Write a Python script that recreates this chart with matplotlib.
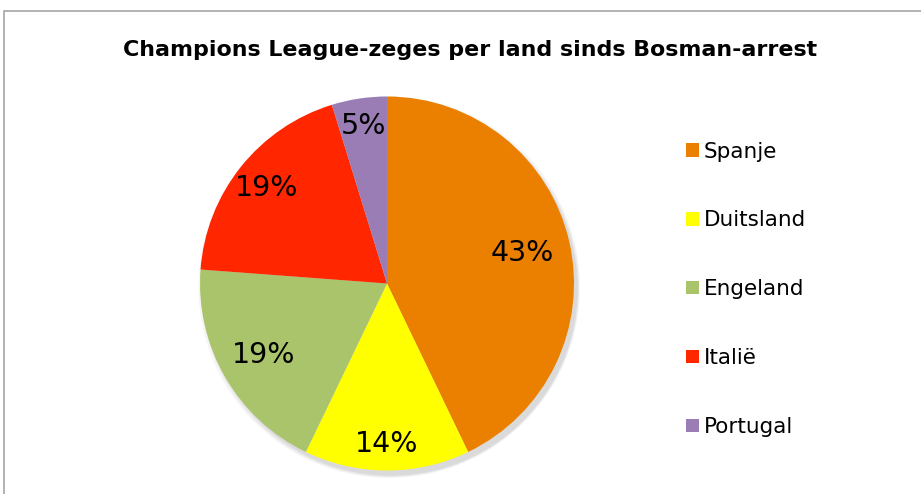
import matplotlib
matplotlib.use('Agg')
import matplotlib.pyplot as plt
import numpy as np
from matplotlib.patches import Circle, Rectangle

# Champions League-zeges (1996-2016), aandeel per land
landen = ['Spanje', 'Duitsland', 'Engeland', 'Italië', 'Portugal']
zeges = [9, 3, 4, 4, 1]
kleuren = ['#EB7F00', '#FFFF00', '#AAC46C', '#FF2600', '#9A7DB4']
label_afstand = [0.74, 0.86, 0.76, 0.82, 0.85]

plt.rcParams['font.family'] = ['Verdana', 'DejaVu Sans']

fig = plt.figure(figsize=(9.21, 4.94), dpi=100)

# grijze kader rond de grafiek
fig.patches.append(Rectangle((4 / 921, -0.1), 1.1, 1 - 11 / 494 + 0.1,
                             transform=fig.transFigure, fill=False,
                             edgecolor='#A6A6A6', linewidth=1.2))

fig.text(470 / 921, 1 - 50 / 494, 'Champions League-zeges per land sinds Bosman-arrest',
         ha='center', va='center', fontsize=15.9, fontweight='bold')

cx, cy, r = 387, 283.5, 187
ax = fig.add_axes([(cx - r * 1.05) / 921, (494 - cy - r * 1.05) / 494,
                   2.1 * r / 921, 2.1 * r / 494])
ax.set_aspect('equal')
ax.axis('off')

# zachte schaduw
for i, a in enumerate([0.04, 0.05, 0.06]):
    ax.add_patch(Circle((0.012 + 0.004 * i, -0.02 - 0.004 * i), 1.0 + 0.01 * (2 - i),
                        color='#000000', alpha=a, zorder=0, linewidth=0))

wedges, texts, autotexts = ax.pie(zeges, colors=kleuren, startangle=90, counterclock=False,
                                  autopct='%1.0f%%', pctdistance=0.8, radius=1.0,
                                  wedgeprops=dict(linewidth=0),
                                  textprops=dict(fontsize=20.5, color='black'))
for w, t, d in zip(wedges, autotexts, label_afstand):
    hoek = np.deg2rad((w.theta1 + w.theta2) / 2)
    t.set_position((d * np.cos(hoek), d * np.sin(hoek)))
ax.set_xlim(-1.05, 1.05)
ax.set_ylim(-1.05, 1.05)

fig.legend(wedges, landen, loc='upper left', bbox_to_anchor=(686 / 921, 1 - 141.5 / 494),
           frameon=False, fontsize=15.5, handlelength=0.6, handleheight=0.6,
           handletextpad=0.23, labelspacing=2.27, borderaxespad=0, borderpad=0)

fig.savefig('out.png', dpi=100)
